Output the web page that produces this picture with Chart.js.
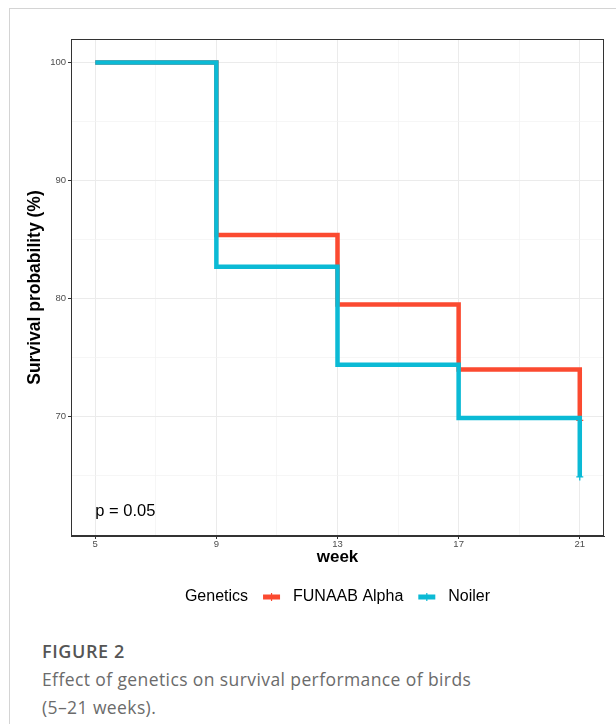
<!DOCTYPE html>
<html>
<head>
<meta charset="utf-8">
<script src="https://cdn.jsdelivr.net/npm/chart.js@4.4.0/dist/chart.umd.min.js"></script>
<style>
  body { margin: 0; background: #fff; width: 616px; height: 724px; overflow: hidden; position: relative; }
  #card { position: absolute; left: 9px; top: 8px; width: 700px; height: 800px; border-left: 1px solid #d4d4d4; border-top: 1px solid #d4d4d4; }
  #wrap { position: absolute; left: 0; top: 0; width: 616px; height: 620px; }
  #caption { position: absolute; left: 42px; top: 637px; font-family: "Open Sans", Lato, sans-serif; font-size: 17.5px; letter-spacing: 0.4px; line-height: 28px; color: #6b6b6b; white-space: nowrap; }
  #caption b { color: #555; font-weight: 600; font-size: 18px; letter-spacing: 0.6px; }
</style>
</head>
<body>
<div id="card"></div>
<div id="wrap"><canvas id="grafico"></canvas></div>
<div id="caption"><b>FIGURE 2</b><br>Effect of genetics on survival performance of birds<br>(5–21 weeks).</div>
<script>
// dados
var semanas = [5, 9, 13, 17, 21]
var funaabAlpha = [100, 85.4, 79.5, 74.0, 69.7]
var noiler = [100, 82.7, 74.4, 69.9, 64.9]

var xMajor = [5, 9, 13, 17, 21]
var xMinor = [7, 11, 15, 19]
var yMajor = [70, 80, 90, 100]
var yMinor = [65, 75, 85, 95]

var pTexto = 'p = 0.05'
var pX = 5
var pY = 62

var corFunaab = '#FB4A30'
var corNoiler = '#0BBAD5'
var fonte = '"Liberation Sans", Arial, sans-serif'

function pontos(ys) {
    var out = []
    for (var i = 0; i < semanas.length; i++) {
        out.push({ x: semanas[i], y: ys[i] })
    }
    return out
}

function ehMajor(scale, v) {
    var lista = scale.axis === 'x' ? xMajor : yMajor
    return lista.indexOf(v) >= 0
}

// marcas de censura só no último ponto
var raios = [0, 0, 0, 0, 3.5]

const dataG = {
    datasets: [{
        label: 'FUNAAB Alpha',
        data: pontos(funaabAlpha),
        borderColor: corFunaab,
        backgroundColor: corFunaab,
        borderWidth: 4.5,
        stepped: true,
        pointStyle: 'cross',
        pointRadius: raios,
        pointBorderWidth: 1.3,
        order: 1
    },
    {
        label: 'Noiler',
        data: pontos(noiler),
        borderColor: corNoiler,
        backgroundColor: corNoiler,
        borderWidth: 4.5,
        stepped: true,
        pointStyle: 'cross',
        pointRadius: raios,
        pointBorderWidth: 1.3,
        order: 0
    }]
}

function gridCfg() {
    return {
        color: function (c) { return c.tick && ehMajor(c.scale, c.tick.value) ? '#EBEBEB' : '#F2F2F2' },
        lineWidth: function (c) { return c.tick && ehMajor(c.scale, c.tick.value) ? 1 : 0.7 },
        tickColor: function (c) { return c.tick && ehMajor(c.scale, c.tick.value) ? '#333333' : 'rgba(0,0,0,0)' },
        tickLength: 3,
        drawTicks: true
    }
}

// borda do painel, anotação do p e legenda
const extras = {
    id: 'extras',
    afterDatasetsDraw(chart) {
        const ctx = chart.ctx
        const a = chart.chartArea
        ctx.save()
        ctx.strokeStyle = '#333333'
        ctx.lineWidth = 1
        ctx.strokeRect(a.left + 0.5, a.top + 0.5, a.right - a.left - 1, a.bottom - a.top - 1)

        ctx.fillStyle = '#000'
        ctx.font = '16.5px ' + fonte
        ctx.textAlign = 'left'
        ctx.textBaseline = 'middle'
        ctx.fillText(pTexto, chart.scales.x.getPixelForValue(pX), chart.scales.y.getPixelForValue(pY))

        // legenda no estilo ggplot
        ctx.font = '16px ' + fonte
        var itens = [{ texto: 'Genetics' }]
        chart.data.datasets.forEach(function (d) { itens.push({ texto: d.label, cor: d.borderColor }) })
        var sw = 17, gapSw = 13, gapItem = 15
        var total = 0
        itens.forEach(function (it, i) {
            it.w = ctx.measureText(it.texto).width
            total += it.w
            if (it.cor) total += sw + gapSw
            if (i > 0) total += gapItem
        })
        var x = (a.left + a.right) / 2 - total / 2
        var y = 597
        itens.forEach(function (it, i) {
            if (i > 0) x += gapItem
            if (it.cor) {
                ctx.fillStyle = it.cor
                ctx.fillRect(x, y - 2.5, sw, 5)
                ctx.strokeStyle = it.cor
                ctx.lineWidth = 1.2
                ctx.beginPath()
                ctx.moveTo(x + sw / 2, y - 4)
                ctx.lineTo(x + sw / 2, y + 4)
                ctx.stroke()
                x += sw + gapSw
            }
            ctx.fillStyle = '#000'
            ctx.fillText(it.texto, x, y)
            x += it.w
        })
        ctx.restore()
    }
}

const configG = {
    type: 'line',
    data: dataG,
    options: {
        responsive: true,
        maintainAspectRatio: false,
        animation: false,
        layout: { padding: { left: 25, top: 39, right: 12, bottom: 52 } },
        plugins: {
            legend: { display: false },
            tooltip: { enabled: false }
        },
        scales: {
            x: {
                type: 'linear',
                min: 4.2,
                max: 21.8,
                afterBuildTicks: function (s) {
                    s.ticks = xMajor.concat(xMinor).sort(function (a, b) { return a - b }).map(function (v) { return { value: v } })
                },
                afterFit: function (s) { s.height = 32 },
                grid: gridCfg(),
                border: { display: true, color: '#333333', width: 1 },
                ticks: {
                    autoSkip: false,
                    maxRotation: 0,
                    padding: 0,
                    color: '#4D4D4D',
                    font: { family: fonte, size: 9.5 },
                    callback: function (v) { return xMajor.indexOf(v) >= 0 ? String(v) : '' }
                },
                title: {
                    display: true,
                    text: 'week',
                    color: '#000',
                    padding: 0,
                    font: { family: fonte, size: 17, weight: 'bold' }
                }
            },
            y: {
                min: 59.9,
                max: 102,
                afterBuildTicks: function (s) {
                    s.ticks = yMinor.concat(yMajor).sort(function (a, b) { return a - b }).map(function (v) { return { value: v } })
                },
                afterFit: function (s) { s.width = 46 },
                grid: gridCfg(),
                border: { display: true, color: '#333333', width: 1 },
                ticks: {
                    autoSkip: false,
                    padding: 2,
                    color: '#4D4D4D',
                    font: { family: fonte, size: 9.5 },
                    callback: function (v) { return yMajor.indexOf(v) >= 0 ? String(v) : '' }
                },
                title: {
                    display: true,
                    text: 'Survival probability (%)',
                    color: '#000',
                    padding: 0,
                    font: { family: fonte, size: 17.5, weight: 'bold' }
                }
            }
        }
    },
    plugins: [extras]
}

const grafico = new Chart(document.getElementById('grafico'), configG)
</script>
</body>
</html>
